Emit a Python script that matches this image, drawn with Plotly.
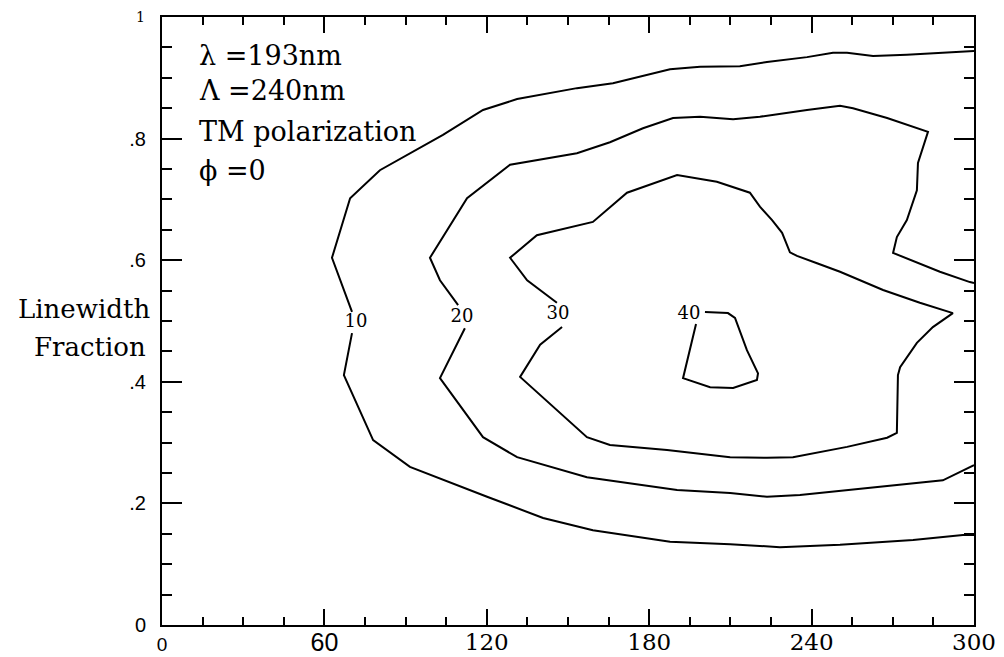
import plotly.graph_objects as go

# Contour levels and where their labels sit on the curves
label_levels = [10, 20, 30, 40]
label_x = [71.7, 110.8, 146.3, 194.7]
label_y = [0.498, 0.505, 0.511, 0.510]

# Level 10: upper branch (right edge -> label), lower branch (label -> right edge)
level10_upper_x = [300, 292.2, 275.2, 262.7, 253.1, 247.9, 238.3, 223.5, 213.5, 198.8,
                   187.7, 166.6, 153.3, 131.2, 118.6, 103.8, 80.5, 69.5, 62.8, 70.2]
level10_upper_y = [0.944, 0.942, 0.938, 0.936, 0.941, 0.941, 0.934, 0.926, 0.919, 0.918,
                   0.914, 0.891, 0.883, 0.865, 0.847, 0.806, 0.748, 0.702, 0.604, 0.515]
level10_lower_x = [70.2, 67.2, 78.0, 91.6, 120.1, 140.8, 159.2, 187.7, 209.9, 228.3,
                   250.5, 277.5, 295.9, 300]
level10_lower_y = [0.480, 0.411, 0.304, 0.260, 0.211, 0.176, 0.156, 0.137, 0.133, 0.128,
                   0.132, 0.140, 0.148, 0.148]

# Level 20
level20_upper_x = [300, 298.5, 287.4, 273.8, 270.1, 271.5, 275.2, 278.9, 279.3, 283.0,
                   267.9, 255.3, 250.5, 238.3, 220.9, 211.0, 198.8, 188.8, 177.7, 165.5,
                   153.3, 128.6, 112.7, 99.0, 102.7, 109.4]
level20_upper_y = [0.5625, 0.564, 0.581, 0.605, 0.612, 0.638, 0.666, 0.715, 0.760, 0.811,
                   0.834, 0.850, 0.854, 0.847, 0.836, 0.832, 0.836, 0.834, 0.817, 0.794,
                   0.776, 0.757, 0.702, 0.604, 0.567, 0.526]
level20_lower_x = [111.9, 102.7, 118.6, 131.2, 157.0, 190.3, 209.9, 223.5, 235.7, 265.3,
                   288.5, 300]
level20_lower_y = [0.488, 0.406, 0.309, 0.276, 0.243, 0.222, 0.217, 0.211, 0.214, 0.227,
                   0.238, 0.263]

# Level 30 (closed loop, broken at its label)
level30_x = [145.9, 134.9, 128.6, 138.5, 159.2, 171.8, 190.3, 205.0, 217.2, 220.9,
             225.4, 229.1, 232.0, 234.6, 242.0, 250.5, 266.4, 280.0, 292.2, 284.8,
             278.9, 272.7, 271.9, 271.5, 267.9, 253.1, 233.1, 223.5, 209.9, 186.6,
             165.5, 157.0, 132.3, 139.7, 147.8]
level30_y = [0.530, 0.567, 0.604, 0.641, 0.663, 0.711, 0.740, 0.729, 0.711, 0.688,
             0.666, 0.645, 0.613, 0.607, 0.595, 0.581, 0.551, 0.530, 0.513, 0.490,
             0.464, 0.424, 0.411, 0.316, 0.308, 0.293, 0.276, 0.275, 0.276, 0.288,
             0.296, 0.309, 0.408, 0.461, 0.490]

# Level 40 (closed loop, broken at its label)
level40_x = [200.6, 209.1, 211.7, 216.1, 220.2, 219.8, 211.0, 202.5, 192.5, 196.9, 197.3]
level40_y = [0.515, 0.513, 0.505, 0.452, 0.414, 0.403, 0.390, 0.391, 0.406, 0.485, 0.495]

# Axis ticks: serif labels on the main axes, sans labels on the overlay axes
x_tick_vals = [0, 60, 120, 180, 240, 300]
x_tick_text_serif = ['', '', '120', '180', '240', '300']
x_sans_vals = [0, 60]
x_sans_text = ['<span style="font-size:19px">0</span>', '60']
y_tick_vals = [0, 0.2, 0.4, 0.6, 0.8, 1.0]
y_tick_text_sans = ['0', '.2', '.4', '.6', '.8', '']
y_serif_vals = [1.0]
y_serif_text = ['1']

# Parameter block
info_lines = ['λ =193nm', 'Λ =240nm', 'TM polarization', 'ϕ =0']
info_y = [0.9375, 0.879, 0.812, 0.747]

SERIF = 'DejaVu Serif'
SANS = 'Liberation Sans'
line_style = dict(color='black', width=2)

fig = go.Figure()
segments = [
    (level10_upper_x, level10_upper_y), (level10_lower_x, level10_lower_y),
    (level20_upper_x, level20_upper_y), (level20_lower_x, level20_lower_y),
    (level30_x, level30_y), (level40_x, level40_y),
]
for sx, sy in segments:
    fig.add_trace(go.Scatter(x=sx, y=sy, mode='lines', line=line_style,
                             hoverinfo='skip', showlegend=False))

fig.add_trace(go.Scatter(
    x=label_x, y=label_y, mode='text', text=[str(v) for v in label_levels],
    textfont=dict(family=SERIF, size=18, color='black'),
    textposition='middle center', hoverinfo='skip', showlegend=False))

# empty trace so the overlay axes are laid out
fig.add_trace(go.Scatter(x=[None], y=[None], xaxis='x2', yaxis='y2',
                         mode='lines', hoverinfo='skip', showlegend=False))

for txt, yy in zip(info_lines, info_y):
    fig.add_annotation(x=12.9, y=yy, xref='x', yref='y', text=txt, showarrow=False,
                       xanchor='left', yanchor='middle',
                       font=dict(family=SERIF, size=27, color='black'))

fig.add_annotation(x=-0.012, y=0.520, xref='paper', yref='paper', text='Linewidth',
                   showarrow=False, xanchor='right', yanchor='middle',
                   font=dict(family=SERIF, size=26, color='black'))
fig.add_annotation(x=-0.017, y=0.458, xref='paper', yref='paper', text='Fraction',
                   showarrow=False, xanchor='right', yanchor='middle',
                   font=dict(family=SERIF, size=26, color='black'))

fig.update_layout(
    xaxis=dict(
        range=[0, 300], showgrid=False, zeroline=False, automargin=False,
        showline=True, linecolor='black', linewidth=2, mirror='ticks',
        ticks='inside', ticklen=16, tickwidth=2, tickcolor='black',
        tickvals=x_tick_vals, ticktext=x_tick_text_serif, ticklabelstandoff=-5,
        tickfont=dict(family=SERIF, size=23, color='black'),
        minor=dict(dtick=15, tick0=0, ticks='inside', ticklen=8, tickwidth=2,
                   tickcolor='black', showgrid=False),
    ),
    yaxis=dict(
        range=[0, 1], showgrid=False, zeroline=False, automargin=False,
        showline=True, linecolor='black', linewidth=2, mirror='ticks',
        ticks='inside', ticklen=20, tickwidth=2, tickcolor='black',
        tickvals=y_tick_vals, ticktext=y_tick_text_sans, ticklabelstandoff=10,
        tickfont=dict(family=SANS, size=20, color='black'),
        minor=dict(dtick=0.05, tick0=0, ticks='inside', ticklen=10, tickwidth=2,
                   tickcolor='black', showgrid=False),
    ),
    xaxis2=dict(
        range=[0, 300], overlaying='x', side='bottom', anchor='y', automargin=False,
        showgrid=False, zeroline=False, showline=False, ticks='',
        tickvals=x_sans_vals, ticktext=x_sans_text, ticklabelstandoff=0,
        tickfont=dict(family=SANS, size=25, color='black'),
    ),
    yaxis2=dict(
        range=[0, 1], overlaying='y', side='left', anchor='x', automargin=False,
        showgrid=False, zeroline=False, showline=False, ticks='',
        tickvals=y_serif_vals, ticktext=y_serif_text, ticklabelstandoff=16,
        tickfont=dict(family=SERIF, size=14, color='black'),
    ),
    width=1004, height=657,
    margin=dict(l=162, r=30, t=17, b=32),
    paper_bgcolor='white', plot_bgcolor='white',
    showlegend=False,
)

fig.write_html('out.html')
